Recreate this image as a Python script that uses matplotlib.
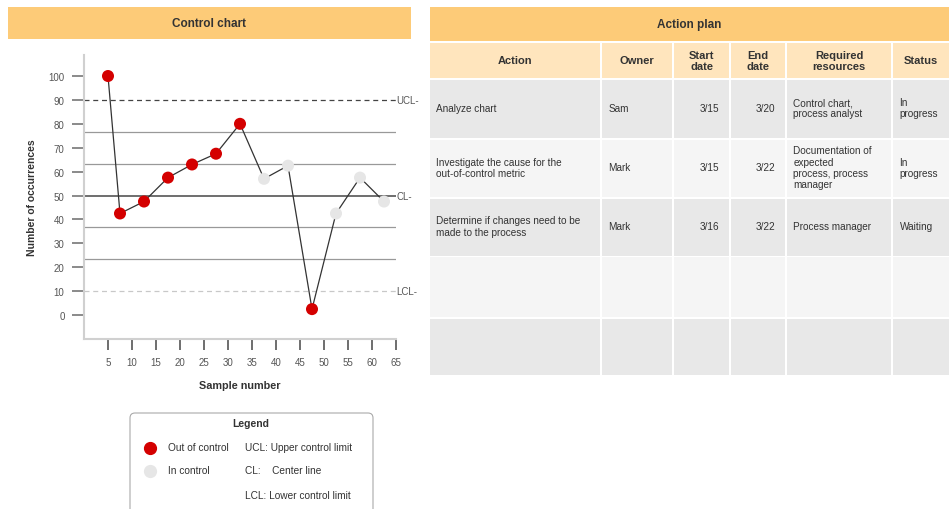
import matplotlib
matplotlib.use("Agg")
import matplotlib.pyplot as plt
from matplotlib.patches import Rectangle, FancyBboxPatch

plt.rcParams['font.family'] = ['Liberation Sans', 'DejaVu Sans']

# ---------------- data ----------------
sample_x = [5, 7.5, 12.5, 17.5, 22.5, 27.5, 32.5, 37.5, 42.5, 47.5, 52.5, 57.5, 62.5]
sample_y = [100, 42.5, 47.5, 57.5, 63, 67.5, 80, 57, 62.5, 2.5, 42.5, 57.5, 47.5]
out_of_control = [True, True, True, True, True, True, True, False, False, True, False, False, False]

ucl, cl, lcl = 90, 50, 10
sigma_lines = [76.67, 63.33, 36.67, 23.33]
y_ticks = [0, 10, 20, 30, 40, 50, 60, 70, 80, 90, 100]
x_ticks = [5, 10, 15, 20, 25, 30, 35, 40, 45, 50, 55, 60, 65]
x_tick_labels = ["5", "10", "15", "20", "25", "30", "35", "40", "45", "50", "55", "60", "65"]

table_header = ["Action", "Owner", "Start\ndate", "End\ndate", "Required\nresources", "Status"]
table_rows = [
    ["Analyze chart", "Sam", "3/15", "3/20", "Control chart,\nprocess analyst", "In\nprogress"],
    ["Investigate the cause for the\nout-of-control metric", "Mark", "3/15", "3/22",
     "Documentation of\nexpected\nprocess, process\nmanager", "In\nprogress"],
    ["Determine if changes need to be\nmade to the process", "Mark", "3/16", "3/22", "Process manager", "Waiting"],
    ["", "", "", "", "", ""],
    ["", "", "", "", "", ""],
]
col_align = ["left", "left", "right", "right", "left", "left"]

# ---------------- figure ----------------
W, H = 949, 510
fig = plt.figure(figsize=(W / 100, H / 100), dpi=100)
bg = fig.add_axes([0, 0, 1, 1])
bg.set_xlim(0, W)
bg.set_ylim(H, 0)
bg.axis("off")

ORANGE = "#FDCB78"
LIGHT_ORANGE = "#FFE5BD"
GRAY_ROW = "#E8E8E8"
LIGHT_ROW = "#F5F5F5"
TXT = "#333333"

# Control chart header
bg.add_patch(Rectangle((8, 8), 403, 32, facecolor=ORANGE, edgecolor="none"))
bg.text(209.5, 24, "Control chart", ha="center", va="center", fontsize=8.5,
        fontweight="bold", color=TXT)

# Action plan header
bg.add_patch(Rectangle((430, 8), 519, 34, facecolor=ORANGE, edgecolor="none"))
bg.text(689, 25, "Action plan", ha="center", va="center", fontsize=8.5,
        fontweight="bold", color=TXT)

# Table
col_edges = [430, 600, 672, 729, 785, 891, 949]
gap = 2.5
hdr_top, hdr_bot = 44, 79
row_bounds = [(80.5, 139), (140.5, 198), (199.5, 256.5), (258, 318), (319.5, 376)]
for ci in range(6):
    x0 = col_edges[ci] + (gap if ci > 0 else 0)
    x1 = col_edges[ci + 1]
    bg.add_patch(Rectangle((x0, hdr_top), x1 - x0, hdr_bot - hdr_top,
                           facecolor=LIGHT_ORANGE, edgecolor="none"))
    bg.text((x0 + x1) / 2, (hdr_top + hdr_bot) / 2, table_header[ci], ha="center",
            va="center", fontsize=8, fontweight="bold", color=TXT, linespacing=1.1)
    for ri, (y0, y1) in enumerate(row_bounds):
        fc = GRAY_ROW if ri % 2 == 0 else LIGHT_ROW
        bg.add_patch(Rectangle((x0, y0), x1 - x0, y1 - y0, facecolor=fc, edgecolor="none"))
        txt = table_rows[ri][ci]
        if txt:
            if col_align[ci] == "left":
                tx, ha = x0 + 6, "left"
            else:
                tx, ha = x1 - 10, "right"
            bg.text(tx, (y0 + y1) / 2 - 1, txt, ha=ha, va="center", fontsize=7.2,
                    color=TXT, linespacing=1.15)

# Legend box
bg.add_patch(FancyBboxPatch((130, 414), 243, 110, boxstyle="round,pad=0,rounding_size=5",
                            facecolor="white", edgecolor="#AAAAAA", linewidth=0.8))
bg.text(251, 424, "Legend", ha="center", va="center", fontsize=7.5, fontweight="bold", color=TXT)
bg.plot([150], [449], "o", color="#D40000", markersize=8.5)
bg.plot([150], [472], "o", color="#E6E6E6", markersize=8.5)
bg.text(168, 448, "Out of control", ha="left", va="center", fontsize=7.3, color=TXT)
bg.text(168, 471, "In control", ha="left", va="center", fontsize=7.3, color=TXT)
bg.text(245, 448, "UCL: Upper control limit", ha="left", va="center", fontsize=7.3, color=TXT)
bg.text(245, 471, "CL:    Center line", ha="left", va="center", fontsize=7.3, color=TXT)
bg.text(245, 496, "LCL: Lower control limit", ha="left", va="center", fontsize=7.3, color=TXT)

# ---------------- control chart axes ----------------
ax_left, ax_right = 84, 396
ax_top, ax_bot = 55.5, 340
ax = fig.add_axes([ax_left / W, (H - ax_bot) / H, (ax_right - ax_left) / W, (ax_bot - ax_top) / H])
ax.patch.set_alpha(0)
ax.set_xlim(0, 65)
ax.set_ylim(-10, 109)
for s in ["top", "right"]:
    ax.spines[s].set_visible(False)
for s in ["left", "bottom"]:
    ax.spines[s].set_color("#D0D0D0")
    ax.spines[s].set_linewidth(1.5)

ax.set_xticks(x_ticks)
ax.set_xticklabels(x_tick_labels)
ax.set_yticks(y_ticks)
ax.tick_params(axis="x", length=8, width=1.2, color="#555555", labelsize=7, labelcolor="#555555", pad=5)
ax.tick_params(axis="y", length=9, width=1.2, color="#777777", labelsize=7, labelcolor="#555555", pad=5)

ax.axhline(ucl, color="#444444", lw=0.9, ls=(0, (4, 3)))
ax.axhline(cl, color="#555555", lw=1.2)
ax.axhline(lcl, color="#C8C8C8", lw=0.9, ls=(0, (4, 3)))
for v in sigma_lines:
    ax.axhline(v, color="#999999", lw=0.9)

ax.text(65.1, ucl, "UCL-", ha="left", va="center", fontsize=7, color="#555555", clip_on=False)
ax.text(65.1, cl, "CL-", ha="left", va="center", fontsize=7, color="#555555", clip_on=False)
ax.text(65.1, lcl, "LCL-", ha="left", va="center", fontsize=7, color="#555555", clip_on=False)

ax.plot(sample_x, sample_y, color="#333333", lw=0.9, zorder=3)
cols = ["#D40000" if o else "#E6E6E6" for o in out_of_control]
ax.scatter(sample_x, sample_y, s=75, c=cols, zorder=4, linewidths=0)

ax.set_xlabel("Sample number", fontsize=7.8, fontweight="bold", color=TXT, labelpad=9)
ax.set_ylabel("Number of occurrences", fontsize=7.5, fontweight="bold", color=TXT, labelpad=8)

fig.savefig("out.png", dpi=100)
